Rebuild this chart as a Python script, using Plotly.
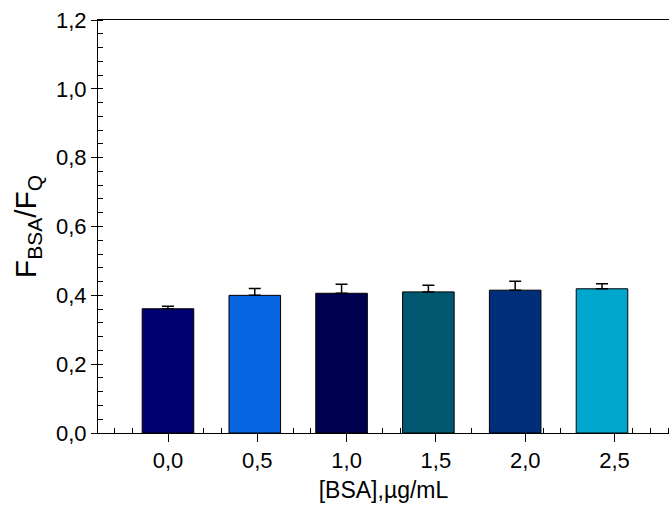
import plotly.graph_objects as go

# BSA concentration (µg/mL) and fluorescence ratio F_BSA/F_Q
concentrations = [0.0, 0.5, 1.0, 1.5, 2.0, 2.5]
ratio = [0.361, 0.400, 0.406, 0.410, 0.415, 0.419]
ratio_err = [0.007, 0.020, 0.026, 0.019, 0.026, 0.015]
bar_colors = ["#000070", "#0866E2", "#000050", "#005870", "#002E78", "#00A6CC"]

y_ticks = [0.0, 0.2, 0.4, 0.6, 0.8, 1.0, 1.2]
y_labels = ["0,0", "0,2", "0,4", "0,6", "0,8", "1,0", "1,2"]
x_ticks = [0.0, 0.5, 1.0, 1.5, 2.0, 2.5]
x_labels = ["0,0", "0,5", "1,0", "1,5", "2,0", "2,5"]

font_family = "Liberation Sans, Arial, sans-serif"
tick_font = dict(family=font_family, size=22, color="#000000")

fig = go.Figure()

# empty trace that anchors the labelled concentration axis
fig.add_trace(go.Scatter(x=[], y=[], xaxis="x", yaxis="y", showlegend=False, hoverinfo="skip"))

fig.add_trace(go.Bar(
    x=concentrations,
    y=ratio,
    width=0.297,
    xaxis="x2",
    yaxis="y",
    marker=dict(color=bar_colors, line=dict(color="#000000", width=1)),
    error_y=dict(
        type="data",
        symmetric=False,
        array=ratio_err,
        arrayminus=[0] * len(ratio_err),
        color="#000000",
        thickness=1.5,
        width=6,
    ),
    showlegend=False,
))

fig.update_layout(
    width=669,
    height=511,
    margin=dict(l=98, r=0, t=20, b=78),
    paper_bgcolor="white",
    plot_bgcolor="white",
    font=dict(family=font_family, color="#000000", size=20),
    xaxis=dict(
        range=[-0.392, 2.805],
        tickmode="array",
        tickvals=x_ticks,
        ticktext=x_labels,
        tickfont=tick_font,
        ticks="outside",
        ticklen=8,
        tickwidth=1,
        tickcolor="#000000",
        minor=dict(dtick=0.1, ticks="inside", ticklen=5, tickcolor="#000000", showgrid=False),
        showline=True,
        linecolor="#000000",
        linewidth=1,
        mirror=True,
        showgrid=False,
        zeroline=False,
        layer="below traces",
        title=dict(text="[BSA],µg/mL", font=dict(size=23), standoff=9),
    ),
    xaxis2=dict(
        range=[-0.403, 2.886],
        overlaying="x",
        anchor="y",
        visible=False,
    ),
    yaxis=dict(
        range=[0, 1.2],
        tickmode="array",
        tickvals=y_ticks,
        ticktext=y_labels,
        tickfont=tick_font,
        ticks="outside",
        ticklen=6,
        tickwidth=1,
        tickcolor="#000000",
        minor=dict(dtick=0.04, ticks="inside", ticklen=5, tickcolor="#000000", showgrid=False),
        showline=True,
        linecolor="#000000",
        linewidth=1,
        showgrid=False,
        zeroline=False,
        layer="below traces",
        title=dict(text="F<sub>BSA</sub>/F<sub>Q</sub>", font=dict(size=30), standoff=10),
    ),
)

fig.write_html("out.html")
